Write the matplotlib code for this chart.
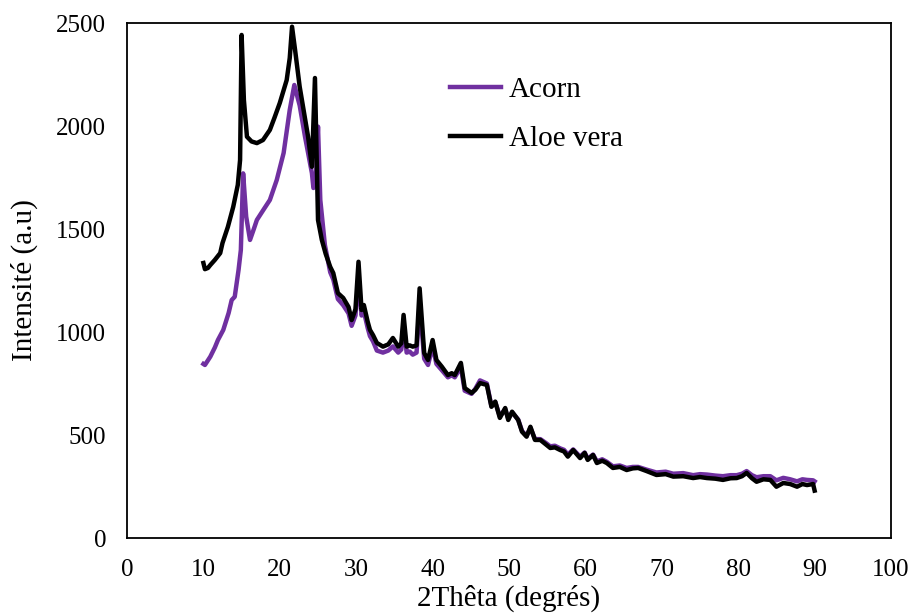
import matplotlib.pyplot as plt

plt.rcParams['font.family'] = ['Liberation Serif', 'DejaVu Serif']

# 2theta (deg) / intensity
x_aloe = [10.0, 10.2, 10.6, 10.9, 11.5, 12.2, 12.5, 13.2, 13.9, 14.5, 14.8,
          15.0, 15.3, 15.7, 16.3, 17.0, 17.8, 18.7, 19.3, 20.0, 20.9, 21.3,
          21.6, 22.0, 22.6, 23.2, 23.7, 24.2, 24.6, 25.0, 25.5, 26.0, 26.6,
          27.0, 27.6, 28.3, 29.0, 29.4, 29.9, 30.3, 30.7, 31.0, 31.5, 31.8,
          32.2, 32.7, 33.5, 34.2, 34.8, 35.5, 35.9, 36.2, 36.6, 37.0, 37.4,
          37.9, 38.3, 38.9, 39.4, 40.0, 40.5, 41.2, 42.0, 42.5, 42.9, 43.7,
          44.2, 45.1, 45.6, 46.2, 47.1, 47.7, 48.2, 48.8, 49.5, 49.9, 50.4,
          51.2, 51.7, 52.3, 52.8, 53.4, 54.1, 54.8, 55.4, 56.0, 56.7, 57.2,
          57.7, 58.4, 59.3, 59.9, 60.3, 61.0, 61.5, 62.2, 62.8, 63.6, 64.5,
          65.4, 66.2, 66.9, 68.0, 69.3, 70.5, 71.5, 72.8, 74.1, 75.0, 75.9,
          77.0, 78.0, 79.0, 79.8, 80.5, 81.1, 81.8, 82.4, 83.3, 84.2, 85.0,
          85.9, 86.8, 87.7, 88.4, 89.0, 89.8, 90.0]
y_aloe = [1335, 1305, 1311, 1325, 1350, 1383, 1432, 1510, 1607, 1714, 1835,
          2442, 2126, 1948, 1925, 1917, 1932, 1981, 2040, 2112, 2223, 2330,
          2482, 2369, 2191, 2060, 1948, 1802, 2233, 1544, 1447, 1380, 1316,
          1286, 1189, 1165, 1121, 1058, 1110, 1341, 1107, 1131, 1050, 1010,
          985, 947, 929, 940, 971, 929, 945, 1083, 929, 935, 929,
          935, 1212, 898, 864, 961, 864, 832, 791, 800, 791, 850,
          728, 704, 720, 752, 743, 637, 662, 583, 631, 573, 613,
          573, 516, 492, 540, 476, 476, 455, 437, 440, 427, 420,
          395, 427, 388, 413, 379, 403, 364, 375, 364, 340, 345,
          330, 338, 340, 325, 306, 310, 298, 300, 291, 296, 291,
          288, 282, 290, 291, 300, 316, 290, 273, 285, 282, 249,
          267, 262, 249, 262, 257, 262, 230]

x_acorn = [10.0, 10.2, 10.9, 11.5, 11.9, 12.6, 13.3, 13.7, 14.1, 14.6, 14.9,
           15.2, 15.6, 16.1, 16.6, 17.0, 17.8, 18.7, 19.6, 20.5, 21.3, 21.9,
           22.6, 23.3, 23.8, 24.2, 24.4, 24.7, 25.0, 25.3, 25.9, 26.6, 27.0,
           27.6, 28.3, 29.0, 29.4, 29.9, 30.3, 30.7, 31.0, 31.5, 31.8, 32.2,
           32.7, 33.5, 34.2, 34.8, 35.5, 35.9, 36.2, 36.6, 37.0, 37.4, 37.9,
           38.3, 38.9, 39.4, 40.0, 40.5, 41.2, 42.0, 42.5, 42.9, 43.7, 44.2,
           45.1, 45.6, 46.2, 47.1, 47.7, 48.2, 48.8, 49.5, 49.9, 50.4, 51.2,
           51.7, 52.3, 52.8, 53.4, 54.1, 54.8, 55.4, 56.0, 56.7, 57.2, 57.7,
           58.4, 59.3, 59.9, 60.3, 61.0, 61.5, 62.2, 62.8, 63.6, 64.5, 65.4,
           66.2, 66.9, 68.0, 69.3, 70.5, 71.5, 72.8, 74.1, 75.0, 75.9, 77.0,
           78.0, 79.0, 79.8, 80.5, 81.1, 81.8, 82.4, 83.3, 84.2, 85.0, 85.9,
           86.8, 87.7, 88.4, 89.0, 89.8, 90.0]
y_acorn = [845, 840, 880, 925, 961, 1010, 1092, 1155, 1171, 1301, 1398,
           1770, 1560, 1447, 1500, 1544, 1590, 1641, 1738, 1869, 2078, 2199,
           2100, 1948, 1850, 1772, 1699, 1720, 1997, 1641, 1422, 1290, 1255,
           1160, 1130, 1090, 1030, 1080, 1260, 1080, 1100, 1020, 980, 955,
           910, 900, 910, 930, 900, 915, 1040, 900, 905, 890,
           900, 1140, 870, 840, 930, 845, 815, 780, 790, 780, 830,
           715, 700, 725, 765, 750, 640, 660, 590, 625, 580, 610,
           575, 520, 495, 535, 480, 480, 462, 445, 448, 435, 428,
           405, 430, 395, 415, 385, 405, 372, 382, 370, 348, 352,
           340, 345, 345, 332, 318, 322, 312, 315, 305, 310, 308,
           303, 300, 305, 305, 312, 325, 305, 295, 300, 300, 280,
           292, 285, 275, 285, 282, 280, 275]

fig = plt.figure(figsize=(9.15, 6.15), dpi=100)
ax = fig.add_axes([0.1388, 0.1252, 0.835, 0.8374])

ax.plot(x_acorn, y_acorn, color='#7030A0', lw=3.2, label='Acorn')
ax.plot(x_aloe, y_aloe, color='black', lw=3.2, label='Aloe vera')

ax.set_xlim(0, 100)
ax.set_ylim(0, 2500)
ax.set_xticks(range(0, 101, 10))
ax.set_yticks(range(0, 2501, 500))
ax.tick_params(length=0, labelsize=18, pad=15)
for s in ax.spines.values():
    s.set_linewidth(1.3)

ax.set_xlabel('2Thêta (degrés)', fontsize=21, labelpad=3)
ax.set_ylabel('Intensité (a.u)', fontsize=21, labelpad=13)

ax.legend(loc='upper left', bbox_to_anchor=(0.423, 0.895), frameon=False,
          fontsize=21, handlelength=1.75, handletextpad=0.25,
          labelspacing=0.75, borderpad=0, borderaxespad=0)

fig.savefig('out.png', dpi=100)
